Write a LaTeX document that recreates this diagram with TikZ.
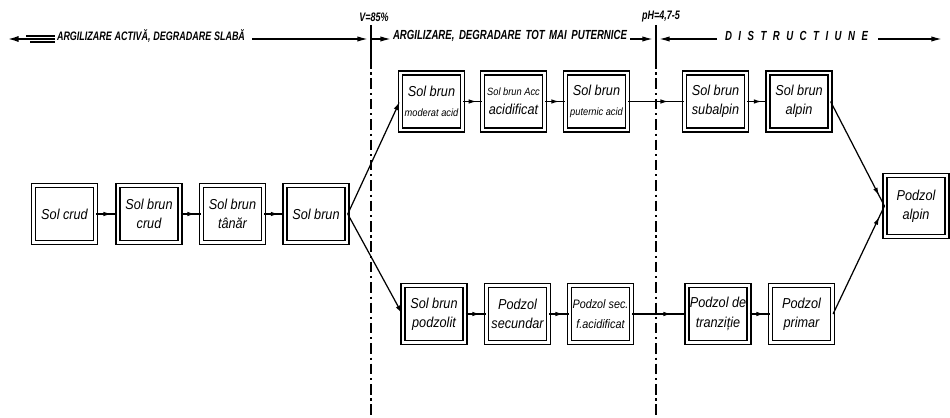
\documentclass[tikz,border=0pt]{standalone}
\usepackage{fontspec}
\setmainfont{Liberation Sans}
\newfontfamily\soilfont[FakeStretch=0.88]{Liberation Sans}
\newfontfamily\headfont[FakeStretch=0.73]{Liberation Sans}
\usetikzlibrary{arrows.meta,decorations.markings}

\tikzset{
  soilbox/.style={draw, double, double distance=1.4pt, line width=0.85pt,
    minimum width=1.24cm, minimum height=1.14cm, inner sep=1pt, align=center,
    font=\soilfont\itshape\fontsize{8.2}{11}\selectfont},
  soilboxlight/.style={soilbox, line width=0.65pt, double distance=1.6pt},
  flow/.style={line width=0.7pt, postaction={decorate},
    decoration={markings, mark=at position 0.72 with {\arrow{Latex[length=4.5pt,width=2.6pt]}}}},
  joinflow/.style={line width=0.7pt, postaction={decorate},
    decoration={markings, mark=at position 0.9 with {\arrow{Latex[length=4.5pt,width=2.6pt]}}}},
  branch/.style={line width=0.7pt, -{Latex[length=5pt,width=2.8pt]}},
  divider/.style={line width=0.7pt, dash pattern=on 6pt off 2.2pt on 1.2pt off 2.2pt},
  headtext/.style={inner sep=0pt, font=\headfont\itshape\bfseries\fontsize{7.5}{8.5}\selectfont},
  marklabel/.style={inner sep=0pt, font=\headfont\itshape\bfseries\fontsize{7}{8}\selectfont},
}
\newcommand{\smalltxt}[1]{{\fontsize{6}{7}\selectfont #1}}
\newcommand{\midtxt}[1]{{\fontsize{7}{8}\selectfont #1}}

\begin{document}
\begin{tikzpicture}[x=0.02cm,y=-0.02cm]
    \useasboundingbox (0,0) rectangle (950,418);

    % Header
    \draw[line width=0.9pt,-{Latex[length=6pt,width=3.5pt]}] (55,39) -- (8,39);
    \draw[line width=0.6pt] (26,36) -- (55,36);
    \draw[line width=0.6pt] (30,42) -- (55,42);
    \node[headtext] (hdweak) at (151,36) {\fontsize{7}{8}\selectfont\makebox[3.76cm][s]{ARGILIZARE ACTIVĂ, DEGRADARE SLABĂ}};
    \node[headtext] (hdstrong) at (510,36) {\makebox[4.68cm][s]{ARGILIZARE, DEGRADARE TOT MAI PUTERNICE}};
    \node[headtext] (hddestr) at (796.5,36) {\makebox[2.86cm][s]{D I S T R U C T I U N E}};
    \draw[line width=0.8pt,-{Latex[length=6pt,width=3pt]}] (252,39) -- (368,39);
    \draw[line width=0.8pt,-{Latex[length=6pt,width=3pt]}] (372,39) -- (391,39);
    \draw[line width=0.8pt,-{Latex[length=6pt,width=3pt]}] (630,39) -- (653,39);
    \draw[line width=0.8pt,-{Latex[length=6pt,width=3pt]}] (717,39) -- (659,39);
    \draw[line width=0.8pt,-{Latex[length=6pt,width=3pt]}] (878,39) -- (942,39);

    % Limits
    \node[marklabel] (vlim) at (374,17) {V=85\%};
    \node[marklabel] (phlim) at (661,17) {pH=4,7-5};
    \draw[line width=0.8pt] (371,25) -- (371,58);
    \draw[divider] (371,58) -- (371,418);
    \draw[line width=0.8pt] (656,25) -- (656,58);
    \draw[divider] (656,58) -- (656,418);

    % Middle row
    \node[soilbox] (solcrud) at (64.5,214) {Sol crud};
    \node[soilbox] (brcrud) at (149,214) {Sol brun\\crud};
    \node[soilbox] (brtanar) at (232.5,214) {Sol brun\\tânăr};
    \node[soilbox] (solbrun) at (316,214) {Sol brun};

    % Upper row
    \node[soilbox] (modacid) at (431.5,101.5) {Sol brun\\\smalltxt{moderat acid}};
    \node[soilbox] (accacid) at (513.5,101.5) {\smalltxt{Sol brun Acc}\\acidificat};
    \node[soilbox] (putacid) at (596.5,101.5) {Sol brun\\\smalltxt{puternic acid}};
    \node[soilboxlight] (subalpin) at (715.5,101.5) {Sol brun\\subalpin};
    \node[soilboxlight] (bralpin) at (799,101.5) {Sol brun\\alpin};

    % Lower row
    \node[soilbox] (podzolit) at (434,314) {Sol brun\\podzolit};
    \node[soilbox] (psecund) at (517.5,314) {Podzol\\secundar};
    \node[soilbox] (psecfac) at (600.5,314) {\midtxt{Podzol sec.}\\\midtxt{f.acidificat}};
    \node[soilboxlight] (ptranz) at (718,314) {Podzol de\\tranziție};
    \node[soilboxlight] (pprimar) at (801.5,314) {Podzol\\primar};

    % End
    \node[soilboxlight, minimum height=1.22cm] (palpin) at (916,206) {Podzol\\alpin};

    % Connections
    \draw[flow] (solcrud) -- (brcrud);
    \draw[flow] (brcrud) -- (brtanar);
    \draw[flow] (brtanar) -- (solbrun);
    \draw[branch] (solbrun.east) -- (modacid.west);
    \draw[branch] (solbrun.east) -- (podzolit.west);
    \draw[flow] (modacid) -- (accacid);
    \draw[flow] (accacid) -- (putacid);
    \draw[flow] (putacid) -- (subalpin);
    \draw[flow] (subalpin) -- (bralpin);
    \draw[flow] (podzolit) -- (psecund);
    \draw[flow] (psecund) -- (psecfac);
    \draw[flow] (psecfac) -- (ptranz);
    \draw[flow] (ptranz) -- (pprimar);
    \draw[joinflow] (bralpin.east) -- (palpin.west);
    \draw[joinflow] (pprimar.east) -- (palpin.west);
\end{tikzpicture}
\end{document}
